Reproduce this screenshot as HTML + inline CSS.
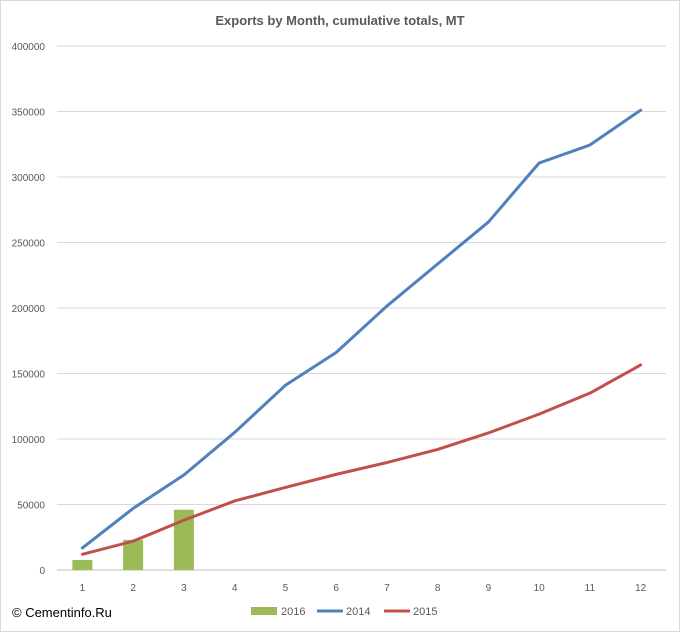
<!DOCTYPE html>
<html><head><meta charset="utf-8"><style>
body{margin:0;background:#fff;font-family:"Liberation Sans",sans-serif}
svg{display:block}
</style></head><body>
<svg id="chart" width="681" height="633" xmlns="http://www.w3.org/2000/svg">
<rect x="0.5" y="0.5" width="679" height="631" fill="#fff" stroke="#d9d9d9"/>
<text x="340" y="25" text-anchor="middle" font-size="13" font-weight="bold" fill="#595959">Exports by Month, cumulative totals, MT</text>
<g id="grid"></g><g id="marks"></g>
<text x="12" y="617" font-size="13" fill="#000">© Cementinfo.Ru</text>
<g>
<rect x="251" y="607" width="26" height="8" fill="#9bbb59"/>
<text x="281" y="615" font-size="11" fill="#595959">2016</text>
<line x1="317" y1="611" x2="343" y2="611" stroke="#4f81bd" stroke-width="3"/>
<text x="346" y="615" font-size="11" fill="#595959">2014</text>
<line x1="384" y1="611" x2="410" y2="611" stroke="#c0504d" stroke-width="3"/>
<text x="413" y="615" font-size="11" fill="#595959">2015</text>
</g>
</svg>
<script>
const categories=["1","2","3","4","5","6","7","8","9","10","11","12"];
const s2014=[16800,47000,72500,105000,141000,166000,201500,233600,265600,310700,324400,351000];
const s2015=[12000,22000,38000,52700,63000,73000,82000,92000,104600,119000,135000,156500];
const s2016=[7600,23000,46000];
const yTicks=[0,50000,100000,150000,200000,250000,300000,350000,400000];
const NS="http://www.w3.org/2000/svg";
const x0=57,x1=666,yb=570,yt=46,ymax=400000;
const step=(x1-x0)/categories.length;
const X=i=>x0+step*(i+0.5);
const Y=v=>yb-(v/ymax)*(yb-yt);
function mk(t,a,p){const e=document.createElementNS(NS,t);for(const k in a)e.setAttribute(k,a[k]);p.appendChild(e);return e;}
const grid=document.getElementById('grid'),marks=document.getElementById('marks');
yTicks.forEach(v=>{
 const l=mk('line',{x1:x0,x2:x1,y1:Y(v),y2:Y(v),stroke:v===0?'#bfbfbf':'#d9d9d9'},grid);
 
 
 const t=mk('text',{x:45,y:Y(v)+4,'text-anchor':'end','font-size':'10',fill:'#595959'},grid);
 t.textContent=v;
 
 
});
categories.forEach((c,i)=>{
 const t=mk('text',{x:X(i),y:591,'text-anchor':'middle','font-size':'10',fill:'#595959'},grid);
 t.textContent=c;
 
 
});
s2016.forEach((v,i)=>{
 const r=mk('rect',{x:X(i)-10,y:Y(v),width:20,height:yb-Y(v),fill:'#9bbb59'},marks);
 
 
});
[[s2014,'#4f81bd','line-2014'],[s2015,'#c0504d','line-2015']].forEach(([s,c,n])=>{
 const p=mk('polyline',{points:s.map((v,i)=>X(i)+','+Y(v)).join(' '),fill:'none',stroke:c,'stroke-width':'3','stroke-linejoin':'round','stroke-linecap':'round'},marks);
 
 
});
</script>
</body></html>
